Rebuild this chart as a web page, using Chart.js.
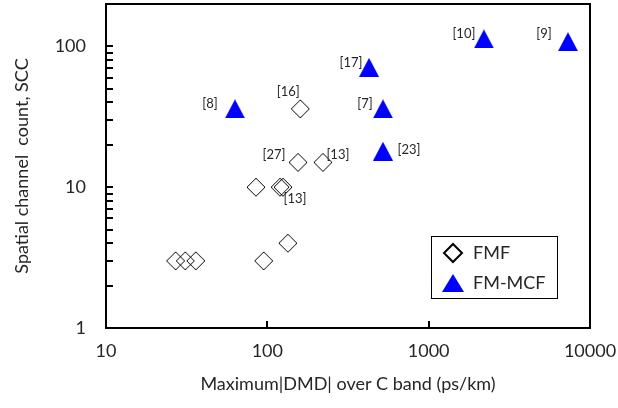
<!DOCTYPE html>
<html>
<head>
<meta charset="utf-8">
<script src="https://cdn.jsdelivr.net/npm/chart.js@4.4.1/dist/chart.umd.min.js"></script>
<style>
  html, body { margin: 0; padding: 0; background: #fff; }
</style>
</head>
<body>
<canvas id="chart1" width="618" height="408"></canvas>
<script>
// few-mode fibres (FMF)
const fmfDmd  = [27, 31, 36, 95, 134, 85, 120, 125, 155, 221, 160];
const fmfScc  = [3, 3, 3, 3, 4, 10, 10, 10, 15, 15, 36];
const fmfRefs = ['', '', '', '', '', '', '', '[13]', '[27]', '[13]', '[16]'];

// few-mode multicore fibres (FM-MCF)
const mcfDmd  = [63, 427, 521, 521, 2200, 7300];
const mcfScc  = [36, 71, 36, 18, 113, 108];
const mcfRefs = ['[8]', '[17]', '[7]', '[23]', '[10]', '[9]'];

const xTicks = [10, 100, 1000, 10000];
const yTicks = [1, 10, 100];

const FONT = 'Lato';
const TEXT = '#262626';

// markers drawn on small canvases so they sit centred on the point like Excel markers
function makeTriangle(w, h) {
  const c = document.createElement('canvas');
  c.width = w; c.height = h;
  const g = c.getContext('2d');
  g.fillStyle = '#0000ff';
  g.beginPath();
  g.moveTo(w / 2, 0);
  g.lineTo(w, h);
  g.lineTo(0, h);
  g.closePath();
  g.fill();
  return c;
}

function makeDiamond(s, lw) {
  const c = document.createElement('canvas');
  const n = s + 2 * lw;
  c.width = n; c.height = n;
  const g = c.getContext('2d');
  const m = n / 2;
  g.strokeStyle = '#000';
  g.lineWidth = lw;
  g.beginPath();
  g.moveTo(m, lw);
  g.lineTo(n - lw, m);
  g.lineTo(m, n - lw);
  g.lineTo(lw, m);
  g.closePath();
  g.stroke();
  return c;
}

const triMark = makeTriangle(20, 19);
const diaMark = makeDiamond(18, 1);
const triLegend = makeTriangle(22, 18);
const diaLegend = makeDiamond(18, 2);

// reference numbers and the boxed legend
const decor = {
  id: 'decor',
  afterDraw(chart, args, opts) {
    const a = chart.chartArea;
    const ctx = chart.ctx;
    ctx.save();

    ctx.font = opts.refSize + 'px ' + FONT;
    ctx.fillStyle = TEXT;
    ctx.textAlign = 'center';
    ctx.textBaseline = 'middle';
    chart.data.datasets.forEach((ds, i) => {
      const meta = chart.getDatasetMeta(i);
      ds.refs.forEach((txt, j) => {
        if (!txt) return;
        const el = meta.data[j];
        const o = opts.offsets[i][j];
        ctx.fillText(txt, el.x + o[0], el.y + o[1]);
      });
    });

    const w = 126, h = 62;
    const x0 = Math.round(a.right - opts.legendRight - w);
    const y0 = Math.round(a.bottom - opts.legendBottom - h);
    ctx.fillStyle = '#000';
    ctx.fillRect(x0, y0, w + 1, h + 1);
    ctx.fillStyle = '#fff';
    ctx.fillRect(x0 + 1, y0 + 1, w - 1, h - 1);
    ctx.font = opts.legendSize + 'px ' + FONT;
    ctx.fillStyle = TEXT;
    ctx.textAlign = 'left';
    const marks = [diaLegend, triLegend];
    chart.data.datasets.forEach((ds, i) => {
      const cy = y0 + 17 + i * 30;
      const m = marks[i];
      ctx.drawImage(m, Math.round(x0 + 22 - m.width / 2), Math.round(cy - m.height / 2));
      ctx.fillText(ds.label, x0 + 42, cy);
    });
    ctx.restore();
  }
};

const toPoints = (xs, ys) => xs.map((x, i) => ({ x: x, y: ys[i] }));

// minor ticks 2..9 in every decade below the axis maximum
const withMinor = (majors, max) => {
  const out = [];
  majors.forEach(d => { for (let k = 1; k <= 9; k++) if (d * k < max) out.push(d * k); });
  return out;
};

// short black tick marks pointing into the plot
const inwardGrid = {
  display: true,
  drawOnChartArea: false,
  drawTicks: true,
  tickLength: -7,
  tickWidth: 2,
  tickColor: '#000',
  lineWidth: 2,
  color: '#000'
};
const frameBorder = { display: true, color: '#000', width: 2 };

new Chart('chart1', {
  type: 'scatter',
  data: {
    datasets: [
      {
        label: 'FMF',
        data: toPoints(fmfDmd, fmfScc),
        refs: fmfRefs,
        pointStyle: diaMark,
        pointRadius: 1,
        borderWidth: 0
      },
      {
        label: 'FM-MCF',
        data: toPoints(mcfDmd, mcfScc),
        refs: mcfRefs,
        pointStyle: triMark,
        pointRadius: 1,
        borderWidth: 0
      }
    ]
  },
  options: {
    responsive: false,
    animation: false,
    devicePixelRatio: 1,
    clip: false,
    layout: { padding: { top: 3, right: 28, left: 0, bottom: 0 } },
    plugins: {
      legend: { display: false },
      tooltip: { enabled: false },
      decor: {
        refSize: 13,
        offsets: [
          [null, null, null, null, null, null, null, [12, 12], [-24, -8], [15, -8], [-12, -17]],
          [[-25, -5], [-18, -5], [-18, -5], [26, -1], [-20, -5], [-24, -8]]
        ],
        legendRight: 33,
        legendBottom: 30,
        legendSize: 18
      }
    },
    scales: {
      x: {
        type: 'logarithmic',
        position: 'bottom',
        min: 10,
        max: 10000,
        afterBuildTicks: s => { s.ticks = xTicks.map(v => ({ value: v })); },
        afterFit: s => { s.height = 80; s.paddingLeft = 0; s.paddingRight = 0; },
        grid: inwardGrid,
        border: frameBorder,
        ticks: {
          autoSkip: false,
          maxRotation: 0,
          padding: 19,
          color: TEXT,
          font: { family: FONT, size: 18 },
          callback: v => String(v)
        },
        title: {
          display: true,
          text: 'Maximum|DMD| over C band (ps/km)',
          color: TEXT,
          font: { family: FONT, size: 18 },
          padding: { top: 0, bottom: 13 }
        }
      },
      x2: {
        type: 'logarithmic',
        position: 'top',
        min: 10,
        max: 10000,
        afterFit: s => { s.height = 0; s.paddingLeft = 0; s.paddingRight = 0; },
        grid: { display: false },
        border: frameBorder,
        ticks: { display: false }
      },
      y: {
        type: 'logarithmic',
        position: 'left',
        min: 1,
        max: 200,
        afterBuildTicks: s => { s.ticks = withMinor(yTicks, s.max).map(v => ({ value: v })); },
        afterFit: s => { s.width = 106; s.paddingTop = 0; s.paddingBottom = 0; },
        grid: inwardGrid,
        border: frameBorder,
        ticks: {
          autoSkip: false,
          padding: 27,
          color: TEXT,
          font: { family: FONT, size: 18 },
          callback: v => (yTicks.includes(v) ? String(v) : '')
        },
        title: {
          display: true,
          text: 'Spatial channel  count, SCC',
          color: TEXT,
          font: { family: FONT, size: 18 },
          padding: { top: 11, bottom: 0 }
        }
      },
      y2: {
        type: 'logarithmic',
        position: 'right',
        min: 1,
        max: 200,
        afterFit: s => { s.width = 0; s.paddingTop = 0; s.paddingBottom = 0; },
        grid: { display: false },
        border: frameBorder,
        ticks: { display: false }
      }
    }
  },
  plugins: [decor]
});
</script>
</body>
</html>
